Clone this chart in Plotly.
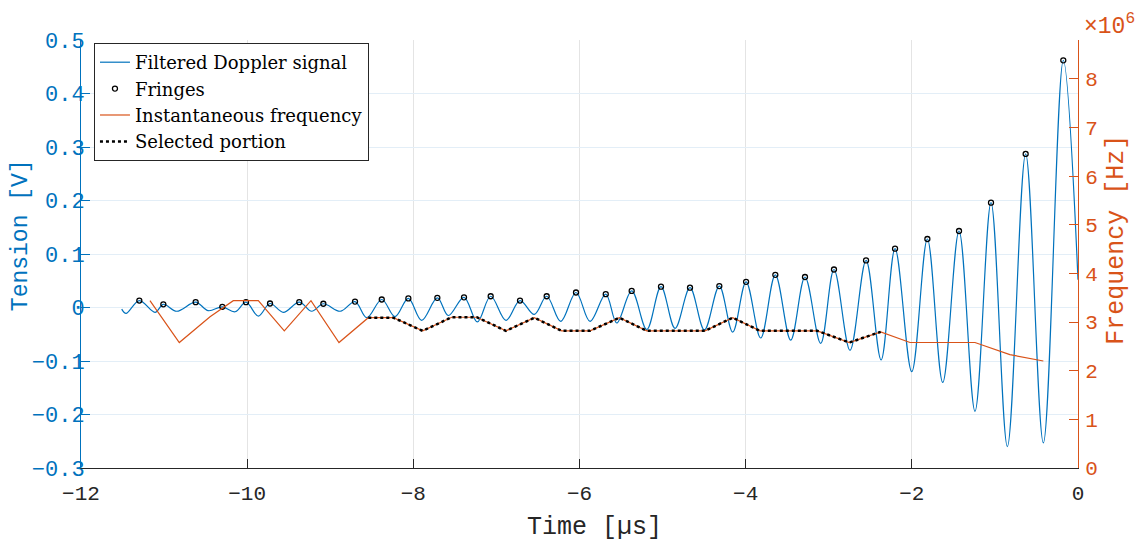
import plotly.graph_objects as go

BLUE = "#0072BD"
ORANGE = "#D95319"
DARK = "#262626"

# Filtered Doppler signal: local extrema (time in µs, tension in V)
start_t, start_v = -11.51, -0.003
end_t, end_v = 0.0, 0.052

peak_t = [-11.298, -11.009, -10.62, -10.299, -10.014, -9.725, -9.373, -9.083, -8.702, -8.38,
          -8.06, -7.711, -7.39, -7.069, -6.716, -6.395, -6.042, -5.684, -5.372, -5.019,
          -4.67, -4.317, -3.995, -3.643, -3.286, -2.937, -2.551, -2.202, -1.813, -1.432,
          -1.047, -0.63, -0.177]
peak_v = [0.013, 0.006, 0.010, 0.0013, 0.010, 0.0075, 0.010, 0.007, 0.011, 0.015,
          0.017, 0.018, 0.019, 0.021, 0.013, 0.021, 0.028, 0.025, 0.031, 0.039,
          0.037, 0.040, 0.048, 0.061, 0.057, 0.071, 0.088, 0.110, 0.128, 0.143,
          0.196, 0.287, 0.462]

trough_t = [-11.458, -11.109, -10.848, -10.468, -10.146, -9.866, -9.565, -9.223, -8.88, -8.56,
            -8.22, -7.9, -7.579, -7.23, -6.885, -6.544, -6.226, -5.873, -5.552, -5.19,
            -4.85, -4.497, -4.156, -3.819, -3.458, -3.097, -2.744, -2.37, -2.001, -1.628,
            -1.24, -0.85, -0.417]
trough_v = [-0.011, -0.009, -0.007, -0.006, -0.008, -0.016, -0.009, -0.007, -0.007, -0.019,
            -0.017, -0.024, -0.015, -0.027, -0.024, -0.013, -0.026, -0.026, -0.029, -0.041,
            -0.039, -0.042, -0.046, -0.057, -0.061, -0.067, -0.080, -0.098, -0.120, -0.140,
            -0.194, -0.260, -0.253]

# Instantaneous frequency (time in µs, frequency in Hz)
freq_t = [-11.17, -10.817, -10.447, -10.167, -9.866, -9.553, -9.232, -8.895, -8.542, -8.241,
          -7.887, -7.538, -7.237, -6.885, -6.544, -6.214, -5.873, -5.52, -5.19, -4.49,
          -4.156, -3.827, -3.137, -2.752, -2.375, -2.022, -1.24, -0.82, -0.417]
freq_hz = [3.44e6, 2.58e6, 3.11e6, 3.44e6, 3.44e6, 2.82e6, 3.44e6, 2.58e6, 3.09e6, 3.09e6,
           2.82e6, 3.10e6, 3.10e6, 2.82e6, 3.09e6, 2.82e6, 2.82e6, 3.09e6, 2.82e6, 2.82e6,
           3.09e6, 2.82e6, 2.82e6, 2.58e6, 2.80e6, 2.58e6, 2.58e6, 2.33e6, 2.20e6]

selected_start, selected_end = -8.542, -2.375

x_ticks = [-12, -10, -8, -6, -4, -2, 0]
y_ticks = [-0.3, -0.2, -0.1, 0, 0.1, 0.2, 0.3, 0.4, 0.5]
y2_tick_labels = ["0", "1", "2", "3", "4", "5", "6", "7", "8"]

# assemble signal from extrema
pts = [(start_t, start_v)] + list(zip(peak_t, peak_v)) + list(zip(trough_t, trough_v)) + [(end_t, end_v)]
pts.sort()
sig_t = [p[0] for p in pts]
sig_v = [p[1] for p in pts]

sel_t = [t for t in freq_t if selected_start <= t <= selected_end]
sel_f = [f for t, f in zip(freq_t, freq_hz) if selected_start <= t <= selected_end]

MONO = "Liberation Mono"

fig = go.Figure()
fig.add_trace(go.Scatter(x=sig_t, y=sig_v, mode="lines", name="Filtered Doppler signal",
                         line=dict(color=BLUE, width=1.2, shape="spline", smoothing=1.0)))
fig.add_trace(go.Scatter(x=peak_t, y=peak_v, mode="markers", name="Fringes",
                         marker=dict(symbol="circle-open", size=5, color="black",
                                     line=dict(width=1.3, color="black"))))
fig.add_trace(go.Scatter(x=freq_t, y=freq_hz, mode="lines", name="Instantaneous frequency",
                         yaxis="y2", line=dict(color=ORANGE, width=1.2)))
fig.add_trace(go.Scatter(x=sel_t, y=sel_f, mode="lines", name="Selected portion",
                         yaxis="y2", line=dict(color="black", width=2.5, dash="dot")))

fig.update_layout(
    width=1135, height=534,
    margin=dict(l=73, r=65, t=32, b=74, autoexpand=False),
    plot_bgcolor="white", paper_bgcolor="white",
    showlegend=True,
    legend=dict(x=0.013, y=0.993, xanchor="left", yanchor="top",
                bgcolor="white", bordercolor=DARK, borderwidth=1,
                font=dict(family="DejaVu Serif", size=18, color="black"),
                tracegroupgap=0, itemwidth=30),
    xaxis=dict(range=[-12, 0], tickvals=x_ticks, ticks="inside", ticklen=9,
               tickcolor=DARK, showline=True, linecolor=DARK, linewidth=1,
               showgrid=True, gridcolor="#E4E4E4", gridwidth=1, zeroline=False,
               automargin=False, ticklabelstandoff=6,
               tickfont=dict(family=MONO, size=21, color=DARK)),
    yaxis=dict(range=[-0.3, 0.5], tickvals=y_ticks, ticks="inside", ticklen=9,
               tickcolor=BLUE, showline=True, linecolor=BLUE, linewidth=1,
               showgrid=True, gridcolor="#E3EEF7", gridwidth=1, zeroline=False,
               automargin=False, ticklabelstandoff=-9,
               tickfont=dict(family=MONO, size=22, color=BLUE)),
    yaxis2=dict(range=[0, 8.8e6], overlaying="y", side="right",
                tickvals=[i * 1e6 for i in range(9)], ticktext=y2_tick_labels,
                ticks="inside", ticklen=9, tickcolor=ORANGE,
                showline=True, linecolor=ORANGE, linewidth=1, showgrid=False, zeroline=False,
                automargin=False, ticklabelstandoff=2,
                tickfont=dict(family=MONO, size=21, color=ORANGE)),
    annotations=[
        dict(text="×10<sup>6</sup>", xref="paper", yref="paper", x=1.004, y=1.035,
             xanchor="left", yanchor="middle", showarrow=False,
             font=dict(family=MONO, size=23, color=ORANGE)),
        dict(text="Time [µs]", xref="paper", yref="paper", x=0.5155, y=-0.138,
             xanchor="center", yanchor="middle", showarrow=False,
             font=dict(family=MONO, size=25, color=DARK)),
        dict(text="Tension [V]", xref="paper", yref="paper", x=-0.0602, y=0.544,
             xanchor="center", yanchor="middle", showarrow=False, textangle=-90,
             borderpad=0, font=dict(family=MONO, size=23, color=BLUE)),
        dict(text="Frequency [Hz]", xref="paper", yref="paper", x=1.0391, y=0.533,
             xanchor="center", yanchor="middle", showarrow=False, textangle=-90,
             font=dict(family=MONO, size=25, color=ORANGE)),
    ],
)

fig.write_html("out.html")
